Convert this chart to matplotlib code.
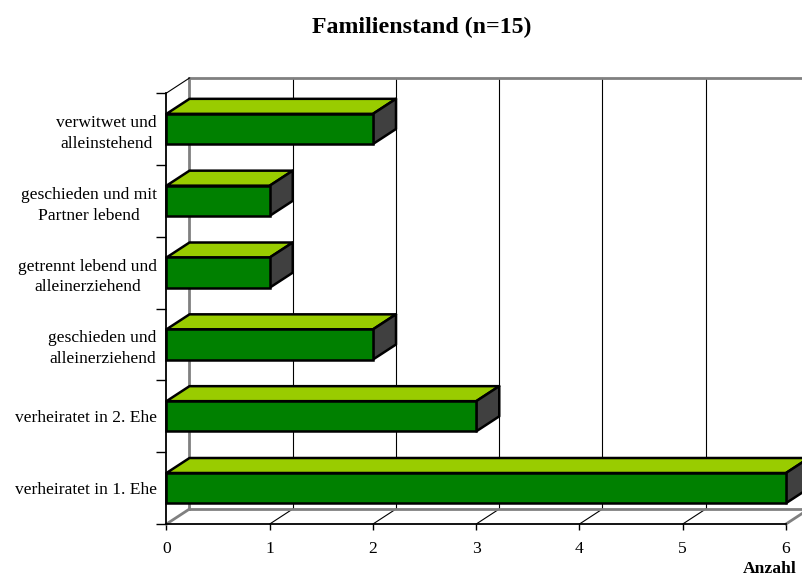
import matplotlib
matplotlib.use("Agg")
import matplotlib.pyplot as plt
from matplotlib.patches import Polygon

# Daten (von oben nach unten wie im Original)
kategorien = ["verwitwet und\nalleinstehend",
              "geschieden und mit\nPartner lebend",
              "getrennt lebend und\nalleinerziehend",
              "geschieden und\nalleinerziehend",
              "verheiratet in 2. Ehe",
              "verheiratet in 1. Ehe"]
anzahl = [2, 1, 1, 2, 3, 6]
x_ticks = [0, 1, 2, 3, 4, 5, 6]

# unterste Kategorie bei y=0
kategorien = kategorien[::-1]
anzahl = anzahl[::-1]
n = len(kategorien)

plt.rcParams['font.family'] = ['Liberation Serif', 'DejaVu Serif']

W, H, DPI = 803, 578, 100
fig = plt.figure(figsize=(W / DPI, H / DPI), dpi=DPI)
fig.patch.set_facecolor('white')

# Vorderebene in Pixeln
left_px, right_px, top_px, bot_px = 166.5, 786, 93, 524
ax = fig.add_axes([left_px / W, 1 - bot_px / H, (right_px - left_px) / W, (bot_px - top_px) / H])
ax.set_xlim(0, 6)
ax.set_ylim(-0.5, n - 0.5)

# Tiefenversatz (Pixel -> Dateneinheiten)
depth_dx, depth_dy = 23, 15
ddx = depth_dx / ((right_px - left_px) / 6)
ddy = depth_dy / ((bot_px - top_px) / n)

gray = '#808080'
ylo, yhi = -0.5, n - 0.5

# Rueckwand mit Gitterlinien
for k in x_ticks[1:]:
    ax.plot([k + ddx, k + ddx], [ylo + ddy, yhi + ddy], color='black', lw=0.8,
            clip_on=False, zorder=1)
ax.plot([ddx, ddx], [ylo + ddy, yhi + ddy], color=gray, lw=2, clip_on=False, zorder=2)
ax.plot([ddx, 6 + ddx], [yhi + ddy, yhi + ddy], color=gray, lw=2, clip_on=False, zorder=2)

# Boden
for k in x_ticks[1:-1]:
    ax.plot([k, k + ddx], [ylo, ylo + ddy], color='black', lw=0.8, clip_on=False, zorder=1)
ax.plot([ddx, 6 + ddx], [ylo + ddy, ylo + ddy], color=gray, lw=2, clip_on=False, zorder=2)
ax.plot([0, ddx], [ylo, ylo + ddy], color=gray, lw=2, clip_on=False, zorder=2)
ax.plot([6, 6 + ddx], [ylo, ylo + ddy], color=gray, lw=2, clip_on=False, zorder=2)

# linke Wand oben
ax.plot([0, ddx], [yhi, yhi + ddy], color='black', lw=0.8, clip_on=False, zorder=2)

# Balken
h = 0.42
edge_lw = 1.8
for i, v in enumerate(anzahl):
    y0, y1 = i - h / 2, i + h / 2
    top = Polygon([(0, y1), (v, y1), (v + ddx, y1 + ddy), (ddx, y1 + ddy)],
                  closed=True, facecolor='#99CC00', edgecolor='black', lw=edge_lw,
                  joinstyle='round', clip_on=False, zorder=5)
    side = Polygon([(v, y0), (v, y1), (v + ddx, y1 + ddy), (v + ddx, y0 + ddy)],
                   closed=True, facecolor='#404040', edgecolor='black', lw=edge_lw,
                   joinstyle='round', clip_on=False, zorder=5)
    ax.add_patch(top)
    ax.add_patch(side)
ax.barh(range(n), anzahl, height=h, color='#008000', edgecolor='black', lw=edge_lw,
        zorder=6, clip_on=False)

# Achsen
for s in ['top', 'right']:
    ax.spines[s].set_visible(False)
ax.spines['left'].set_linewidth(1.3)
ax.spines['bottom'].set_linewidth(1.3)
ax.spines['left'].set_zorder(7)
ax.spines['bottom'].set_zorder(3)

ax.set_xticks(x_ticks)
ax.set_xticklabels([str(t) for t in x_ticks])
ax.tick_params(axis='x', direction='out', length=4.5, width=1, pad=7.5, labelsize=12.6)

ax.set_yticks([i - 0.5 for i in range(n + 1)])
ax.set_yticklabels([])
ax.tick_params(axis='y', which='major', direction='out', length=7.2, width=1)
ax.set_yticks(range(n), minor=True)
ax.set_yticklabels(kategorien, minor=True)
ax.tick_params(axis='y', which='minor', length=0, pad=7, labelsize=12.6)
plt.setp(ax.get_yticklabels(minor=True), multialignment='center', linespacing=1.4)

ax.patch.set_alpha(0)

fig.text(422 / W, 1 - 33 / H, "Familienstand (n=15)", ha='center', va='baseline',
         fontsize=17.2, fontweight='bold')
fig.text(770 / W, 1 - 573 / H, "Anzahl", ha='center', va='baseline',
         fontsize=12.6, fontweight='bold')

fig.savefig('out.png', dpi=DPI)
